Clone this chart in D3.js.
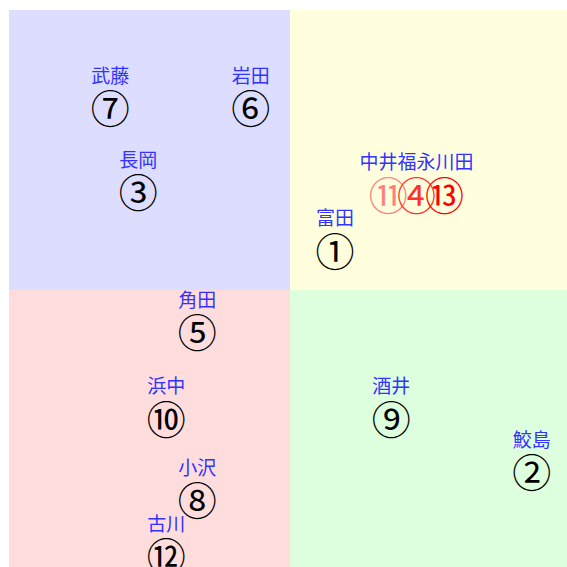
<!DOCTYPE html>
<html>
<head>
<meta charset="utf-8">
<script src="https://cdn.jsdelivr.net/npm/d3@7"></script>
<style>
    body { margin: 0; background: #fff; }
    svg { display: block; }
</style>
</head>
<body>
<div id="chart"></div>
<script>
// points: circled number, name, x, y (range -1..1), cluster
var marks  = ["⑦", "⑥", "③", "⑪", "④", "⑬", "①", "⑤", "⑩", "⑧", "⑫", "⑨", "②"];
var names  = ["武藤", "岩田", "長岡", "中井", "福永", "川田", "富田", "角田", "浜中", "小沢", "古川", "酒井", "鮫島"];
var xVals  = [-0.64, -0.14, -0.54, 0.35, 0.45, 0.55, 0.16, -0.33, -0.44, -0.33, -0.44, 0.36, 0.86];
var yVals  = [0.65, 0.65, 0.35, 0.34, 0.34, 0.34, 0.14, -0.15, -0.46, -0.75, -0.95, -0.46, -0.65];
var groups = [0, 1, 2, 3, 3, 3, 4, 5, 6, 7, 8, 9, 10];
var markColors = ["#000", "#000", "#000", "#ff8080", "#ff3030", "#ff0000", "#000", "#000", "#000", "#000", "#000", "#000", "#000"];

var quadrants = [
    {x0: -1, x1: 0, y0: 0, y1: 1, fill: "#ddddff"},
    {x0: 0, x1: 1, y0: 0, y1: 1, fill: "#ffffdd"},
    {x0: -1, x1: 0, y0: -1, y1: 0, fill: "#ffdddd"},
    {x0: 0, x1: 1, y0: -1, y1: 0, fill: "#ddffdd"}
];

var width = 567,
    height = 567;

var xScale = d3.scaleLinear().domain([-1, 1]).range([9, 571]);
var yScale = d3.scaleLinear().domain([-1, 1]).range([570, 10]);

var svg = d3.select("#chart").append("svg")
    .attr("width", width)
    .attr("height", height);

svg.selectAll("rect.quad")
    .data(quadrants)
    .enter().append("rect")
        .attr("class", "quad")
        .attr("x", function(d) { return xScale(d.x0); })
        .attr("y", function(d) { return yScale(d.y1); })
        .attr("width", function(d) { return xScale(d.x1) - xScale(d.x0); })
        .attr("height", function(d) { return yScale(d.y0) - yScale(d.y1); })
        .style("fill", function(d) { return d.fill; });

var points = [];
for (var i = 0; i < marks.length; i++) {
    points.push({mark: marks[i], name: names[i], x: xVals[i], y: yVals[i], group: groups[i], color: markColors[i]});
}

// one label per cluster, names joined, centred over the cluster
var labels = d3.groups(points, function(d) { return d.group; }).map(function(g) {
    var pts = g[1];
    return {
        text: pts.map(function(p) { return p.name; }).join(""),
        x: d3.mean(pts, function(p) { return p.x; }),
        y: d3.max(pts, function(p) { return p.y; })
    };
});

svg.selectAll("text.mark")
    .data(points)
    .enter().append("text")
        .attr("class", "mark")
        .attr("x", function(d) { return xScale(d.x); })
        .attr("y", function(d) { return yScale(d.y) - 2; })
        .attr("text-anchor", "middle")
        .attr("dominant-baseline", "central")
        .style("font-family", "'Noto Sans CJK JP', sans-serif")
        .style("font-size", "39px")
        .style("fill", function(d) { return d.color; })
        .text(function(d) { return d.mark; });

svg.selectAll("text.name")
    .data(labels)
    .enter().append("text")
        .attr("class", "name")
        .attr("x", function(d) { return xScale(d.x); })
        .attr("y", function(d) { return yScale(d.y) - 34; })
        .attr("text-anchor", "middle")
        .attr("dominant-baseline", "central")
        .style("font-family", "'Noto Sans CJK JP', sans-serif")
        .style("font-size", "19px")
        .style("fill", "#3333ff")
        .text(function(d) { return d.text; });
</script>
</body>
</html>
